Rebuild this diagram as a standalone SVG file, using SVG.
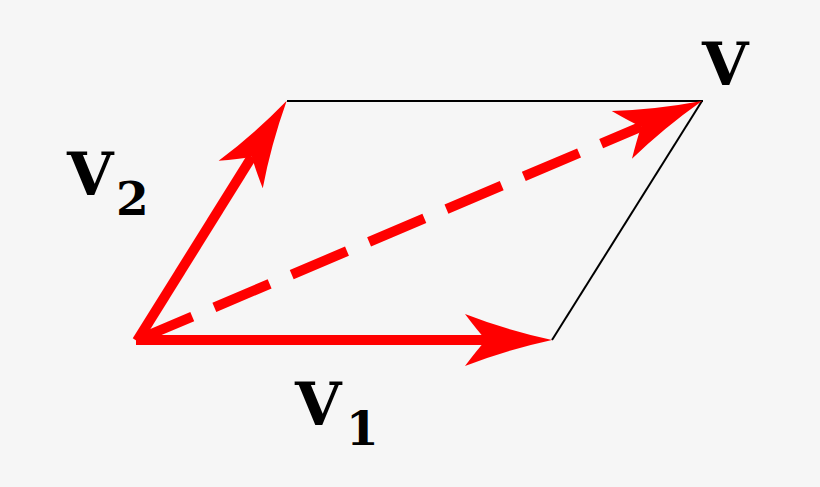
<svg xmlns="http://www.w3.org/2000/svg" width="820" height="487" viewBox="0 0 820 487">
  <style>
    .vec { stroke: #ff0000; stroke-width: 10; fill: none; stroke-linecap: butt; }
    .dash { stroke-dasharray: 60 24; }
    .edge { stroke: #000000; stroke-width: 2; fill: none; }
    .lbl { font-family: "DejaVu Serif", "Liberation Serif", serif; font-weight: bold; fill: #000000; }
    .main { font-size: 60px; }
    .sub { font-size: 47px; }
  </style>
  <defs>
    <marker id="ah" markerUnits="userSpaceOnUse" markerWidth="120" markerHeight="80" viewBox="-30 -40 120 80" refX="0" refY="0" orient="auto" overflow="visible">
      <path d="M66,0 Q20,-10 -21,-26 Q-9,-10 0,0 Q-9,10 -21,26 Q20,10 66,0 Z" fill="#ff0000"/>
    </marker>
  </defs>
  <rect x="0" y="0" width="820" height="487" fill="#f6f6f6"/>
  <g id="parallelogram">
    <line class="edge" x1="287" y1="101" x2="703" y2="101"/>
    <line class="edge" x1="702" y1="101" x2="552" y2="340"/>
  </g>
  <g id="connectors">
    <line id="v1-arrow" class="vec" x1="136" y1="340" x2="486" y2="340" marker-end="url(#ah)"/>
    <line id="v2-arrow" class="vec" x1="137" y1="341" x2="251.8" y2="156.8" marker-end="url(#ah)"/>
    <line id="v-arrow" class="vec dash" x1="137" y1="340" x2="641.2" y2="126.7" marker-end="url(#ah)"/>
  </g>
  <g id="label-v">
    <text class="lbl main" x="702" y="85">V</text>
  </g>
  <g id="label-v1">
    <text class="lbl main" x="295" y="425">V</text>
    <text class="lbl sub" x="346" y="445">1</text>
  </g>
  <g id="label-v2">
    <text class="lbl main" x="67" y="195">V</text>
    <text class="lbl sub" x="116" y="215">2</text>
  </g>
</svg>
